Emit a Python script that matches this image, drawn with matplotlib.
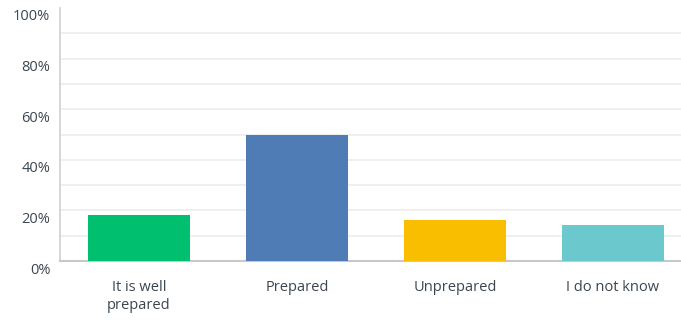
import matplotlib
matplotlib.use("Agg")
import matplotlib.pyplot as plt
import matplotlib.transforms as mtransforms

categories = ["It is well\nprepared", "Prepared", "Unprepared", "I do not know"]
values = [18.2, 50.0, 16.4, 14.3]
colors = ["#00BF6F", "#507CB6", "#F9BE00", "#6BC8CD"]
y_ticks = [0, 20, 40, 60, 80, 100]
y_tick_labels = ["0%", "20%", "40%", "60%", "80%", "100%"]

plt.rcParams["font.family"] = ["Open Sans", "DejaVu Sans"]

W, H = 681, 320
fig = plt.figure(figsize=(W / 100, H / 100), dpi=100)
ax = fig.add_axes([60 / W, 59 / H, 632 / W, 253 / H])

x = list(range(len(categories)))
ax.bar(x, values, width=0.645, color=colors, zorder=3)

ax.set_xlim(-0.5, len(categories) - 0.5)
ax.set_ylim(0, 100)

# light horizontal gridlines every 10%
for g in range(10, 100, 10):
    ax.axhline(g, color="#ececec", lw=1.2, zorder=1)

ax.set_yticks(y_ticks)
ax.set_yticklabels(y_tick_labels)
ax.set_xticks(x)
ax.set_xticklabels(categories, linespacing=1.25)

text_color = "#3b4650"
ax.tick_params(axis="y", length=0, pad=7, labelsize=10.5, labelcolor=text_color)
ax.tick_params(axis="x", length=0, pad=14, labelsize=10.5, labelcolor=text_color)

# shift y tick labels slightly downward
offset = mtransforms.ScaledTranslation(0, -7 / 100, fig.dpi_scale_trans)
for lbl in ax.get_yticklabels():
    lbl.set_transform(lbl.get_transform() + offset)

for side in ["top", "right"]:
    ax.spines[side].set_visible(False)
ax.spines["left"].set_color("#d0d0d0")
ax.spines["bottom"].set_color("#c8c8c8")
ax.spines["left"].set_linewidth(1.2)
ax.spines["bottom"].set_linewidth(1.5)

fig.savefig("out.png", dpi=100)
